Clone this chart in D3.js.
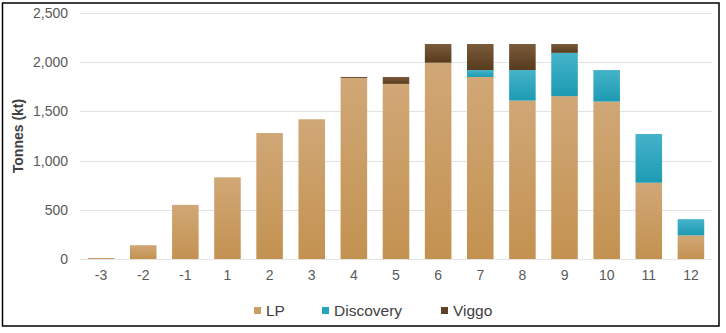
<!DOCTYPE html>
<html>
<head>
<meta charset="utf-8">
<script src="https://cdn.jsdelivr.net/npm/d3@7"></script>
<style>
  html, body { margin: 0; padding: 0; background: #fff; }
  svg { display: block; }
  text { font-family: "Liberation Sans", Arial, sans-serif; }
</style>
</head>
<body>
<svg id="chart" width="726" height="333"></svg>
<script>
const categories = ["-3", "-2", "-1", "1", "2", "3", "4", "5", "6", "7", "8", "9", "10", "11", "12"];
const lp        = [10, 140, 550, 830, 1280, 1420, 1840, 1780, 1995, 1850, 1610, 1655, 1600, 775, 240];
const discovery = [0, 0, 0, 0, 0, 0, 0, 0, 0, 70, 310, 440, 320, 495, 165];
const viggo     = [0, 0, 0, 0, 0, 0, 10, 70, 190, 265, 265, 90, 0, 0, 0];
const seriesNames = ["LP", "Discovery", "Viggo"];
const yTicks = [0, 500, 1000, 1500, 2000, 2500];
const yLabel = "Tonnes (kt)";

const colors = {
  "LP":        ["#d0a776", "#c39251"],
  "Discovery": ["#45b3c9", "#1c9bb3"],
  "Viggo":     ["#7a5b3c", "#573b1d"]
};
const legendColors = { "LP": "#c9a063", "Discovery": "#25a5bd", "Viggo": "#5e4225" };

const svg = d3.select("#chart");
const margin = { left: 80, right: 14, top: 13, bottom: 74 };
const W = 726, H = 333;

const x = d3.scaleBand().domain(categories).range([80, 712]).paddingInner(0.37).paddingOuter(0.185);
const y = d3.scaleLinear().domain([0, 2500]).range([259, 13]);

// gradients
const defs = svg.append("defs");
seriesNames.forEach((s, i) => {
  const g = defs.append("linearGradient").attr("id", "grad" + i)
    .attr("x1", 0).attr("y1", 0).attr("x2", 0).attr("y2", 1);
  g.append("stop").attr("offset", "0%").attr("stop-color", colors[s][0]);
  g.append("stop").attr("offset", "100%").attr("stop-color", colors[s][1]);
});

// border
svg.append("rect").attr("x", 2.5).attr("y", 3).attr("width", 716.5).attr("height", 323)
  .attr("fill", "none").attr("stroke", "#000").attr("stroke-width", 1.5);

// gridlines
svg.append("g").selectAll("line").data(yTicks).join("line")
  .attr("x1", 80).attr("x2", 712)
  .attr("y1", d => Math.round(y(d)) + 0.5).attr("y2", d => Math.round(y(d)) + 0.5)
  .attr("stroke", "#e3e3e3").attr("stroke-width", 1);

// y axis
const yAxis = d3.axisLeft(y).tickValues(yTicks).tickFormat(d3.format(",")).tickSize(0).tickPadding(0);
const gy = svg.append("g").attr("transform", "translate(68,0)").call(yAxis);
gy.select(".domain").remove();
gy.selectAll("text").attr("font-size", 14).attr("fill", "#595959")
  .attr("font-family", "Liberation Sans, Arial, sans-serif");

// x axis
const xAxis = d3.axisBottom(x).tickSize(0).tickPadding(0);
const gx = svg.append("g").attr("transform", "translate(0,270)").call(xAxis);
gx.select(".domain").remove();
gx.selectAll("text").attr("font-size", 14).attr("fill", "#595959")
  .attr("font-family", "Liberation Sans, Arial, sans-serif");

// stacked data
const rows = categories.map((c, i) => ({ cat: c, LP: lp[i], Discovery: discovery[i], Viggo: viggo[i] }));
const stack = d3.stack().keys(seriesNames)(rows);

svg.append("g").selectAll("g").data(stack).join("g")
  .attr("fill", (d, i) => "url(#grad" + i + ")")
  .selectAll("rect").data(d => d.filter(p => p[1] - p[0] > 0)).join("rect")
  .attr("x", d => x(d.data.cat))
  .attr("width", x.bandwidth())
  .attr("y", d => y(d[1]))
  .attr("height", d => y(d[0]) - y(d[1]));

// y label
svg.append("text")
  .attr("transform", "translate(23,136) rotate(-90)")
  .attr("text-anchor", "middle")
  .attr("font-size", 14).attr("font-weight", "bold").attr("fill", "#404040")
  .text(yLabel);

// legend
const legendX = [254, 322, 441];
const lg = svg.append("g");
seriesNames.forEach((s, i) => {
  lg.append("rect").attr("x", legendX[i]).attr("y", 307).attr("width", 7).attr("height", 7)
    .attr("fill", legendColors[s]);
  lg.append("text").attr("x", legendX[i] + 12).attr("y", 316)
    .attr("font-size", 15.5).attr("fill", "#404040").text(s);
});
</script>
</body>
</html>
